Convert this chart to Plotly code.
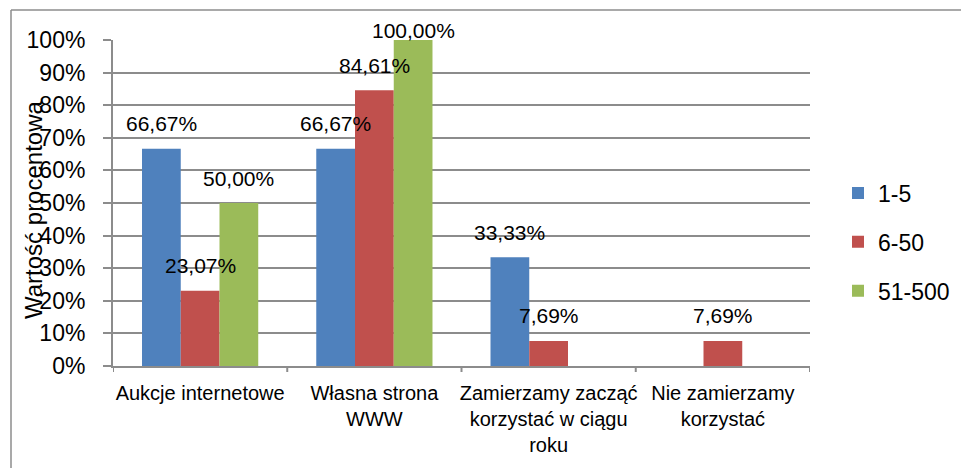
import plotly.graph_objects as go

categories = ["Aukcje internetowe", "Własna strona<br>WWW",
              "Zamierzamy zacząć<br>korzystać w ciągu<br>roku", "Nie zamierzamy<br>korzystać"]
series_names = ["1-5", "6-50", "51-500"]
values_1_5 = [66.67, 66.67, 33.33, None]
values_6_50 = [23.07, 84.61, 7.69, 7.69]
values_51_500 = [50.00, 100.00, None, None]
colors = ["#4F81BD", "#C0504D", "#9BBB59"]
y_ticks = list(range(0, 101, 10))

W, H = 961, 468
ML, MR, MT, MB = 113, 151, 40, 102
plot_w = W - ML - MR
plot_h = H - MT - MB
px_per_unit = plot_h / 100.0
BARGAP = 0.333

fig = go.Figure()
all_series = [values_1_5, values_6_50, values_51_500]
for name, vals, col in zip(series_names, all_series, colors):
    fig.add_trace(go.Bar(
        x=list(range(len(categories))), y=vals, name=name,
        marker=dict(color=col, line=dict(width=0)),
        legendgroup=name,
    ))

FONT = "Liberation Sans, Arial, sans-serif"
annotations = []
n = len(all_series)
slot = (1 - BARGAP) / n
for j, vals in enumerate(all_series):
    for i, v in enumerate(vals):
        if v is None:
            continue
        bar_top = MT + (100 - v) * px_per_unit
        shift = min(25, bar_top - 30)
        annotations.append(dict(
            x=i + (j - (n - 1) / 2) * slot, y=v, xref="x", yref="y",
            text=f"{v:.2f}%".replace(".", ","), showarrow=False,
            yanchor="middle", xanchor="center", yshift=shift,
            font=dict(family=FONT, size=21, color="black"),
        ))

annotations.append(dict(
    x=(33 - ML) / plot_w, y=(366 - 210) / plot_h, xref="paper", yref="paper",
    text="Wartość procentowa", textangle=-90, showarrow=False,
    xanchor="center", yanchor="middle",
    font=dict(family=FONT, size=24, color="black"),
))

fig.update_layout(
    width=W, height=H,
    margin=dict(l=ML, r=MR, t=MT, b=MB, autoexpand=False),
    paper_bgcolor="white", plot_bgcolor="white",
    barmode="group", bargap=BARGAP, bargroupgap=0,
    font=dict(family=FONT, color="black"),
    annotations=annotations,
    legend=dict(
        x=(838 - ML) / plot_w, xanchor="left",
        y=(366 - 242) / plot_h, yanchor="middle",
        font=dict(family=FONT, size=23, color="black"),
        traceorder="grouped", tracegroupgap=16,
        bgcolor="rgba(0,0,0,0)",
    ),
    xaxis=dict(
        tickmode="array", tickvals=list(range(len(categories))), ticktext=categories,
        range=[-0.5, len(categories) - 0.5], automargin=False,
        showline=True, linecolor="#8c8c8c", linewidth=2,
        ticks="", showgrid=False,
        tickfont=dict(family=FONT, size=20, color="black"),
        ticklabelstandoff=8,
    ),
    yaxis=dict(
        range=[0, 100], tickvals=y_ticks, ticktext=[f"{t}%" for t in y_ticks],
        automargin=False,
        showline=True, linecolor="#8c8c8c", linewidth=2,
        ticks="outside", ticklen=8, tickcolor="#8c8c8c", tickwidth=2,
        showgrid=True, gridcolor="#8c8c8c", gridwidth=2,
        tickfont=dict(family=FONT, size=23, color="black"),
        ticklabelstandoff=13, zeroline=False,
    ),
    shapes=[
        dict(type="line", xref="paper", yref="paper",
             x0=(11 - ML) / plot_w, x1=(970 - ML) / plot_w,
             y0=(H - 10 - MB) / plot_h, y1=(H - 10 - MB) / plot_h,
             line=dict(color="#8c8c8c", width=1.5)),
        dict(type="line", xref="paper", yref="paper",
             x0=(11 - ML) / plot_w, x1=(11 - ML) / plot_w,
             y0=(H - 10 - MB) / plot_h, y1=-(MB + 10) / plot_h,
             line=dict(color="#8c8c8c", width=1.5)),
    ] + [
        dict(type="line", xref="x", yref="paper", x0=b - 0.5, x1=b - 0.5,
             y0=0, y1=-6 / plot_h, line=dict(color="#8c8c8c", width=2))
        for b in range(len(categories) + 1)
    ],
)

fig.write_html("out.html", config={"displayModeBar": False},
               post_script="document.body.style.margin='0';document.body.style.overflow='hidden';")
